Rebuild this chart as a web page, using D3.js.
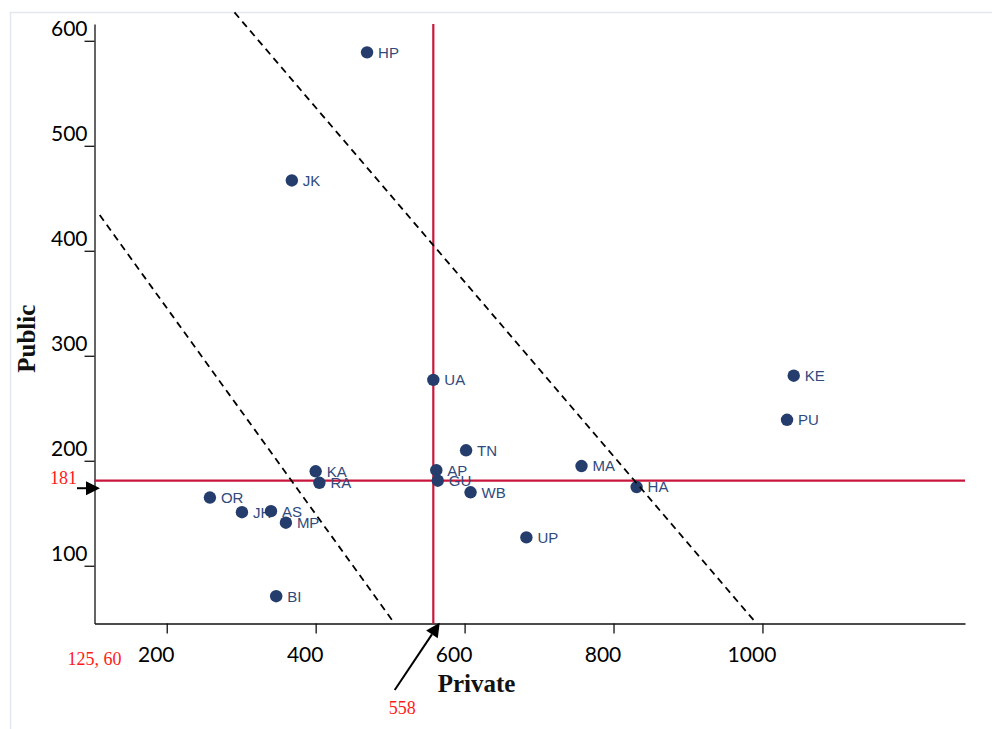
<!DOCTYPE html>
<html>
<head>
<meta charset="utf-8">
<script src="https://cdn.jsdelivr.net/npm/d3@7"></script>
<style>
  html, body { margin: 0; padding: 0; background: #fff; }
  svg { display: block; }
  .tick text { font-family: Lato, "Open Sans", sans-serif; font-size: 21px; fill: #000; }
  .pt-label { font-family: "Liberation Sans", Arial, sans-serif; font-size: 15px; fill: #2f4a7c; }
  .ann { font-family: "Liberation Serif", "Times New Roman", serif; font-size: 18px; fill: #ff1a1a; }
  .axis-title { font-family: "Liberation Serif", "Times New Roman", serif; font-size: 25px; font-weight: bold; fill: #111; }
</style>
</head>
<body>
<svg id="chart"></svg>
<script>
// data begin ----------------------------------
const states = ['HP', 'JK', 'UA', 'KE', 'PU', 'TN', 'MA', 'HA', 'WB', 'KA', 'RA',
                'AP', 'GU', 'OR', 'JH', 'AS', 'MP', 'UP', 'BI'];
const privateSpend = [469, 368, 558, 1042, 1033, 602, 757, 831, 608, 400, 405,
                      562, 564, 258, 301, 340, 360, 683, 347];
const publicSpend = [589, 467, 277, 281, 239, 210, 195, 175, 170, 190, 179,
                     191, 181, 165, 151, 152, 141, 127, 71];
const xTicks = [200, 400, 600, 800, 1000];
const yTicks = [100, 200, 300, 400, 500, 600];
const meanPrivate = 558;
const meanPublic = 181;
const originLabel = '125, 60';
// dashed reference lines: start and end points (private, public)
const dashStart = [[110, 434], [291, 627]];
const dashEnd = [[506, 45], [992, 45]];
// data end ----------------------------------

const W = 992, H = 729;
const margin = { top: 24, right: 27, bottom: 105.5, left: 94.5 };
const width = W - margin.left - margin.right;
const height = H - margin.top - margin.bottom;

const root = d3.select('#chart').attr('width', W).attr('height', H);
root.append('rect').attr('x', 10.5).attr('y', 12.5).attr('width', 1000).attr('height', 800)
    .attr('fill', 'none').attr('stroke', '#e3e7ef').attr('stroke-width', 1.5);

const svg = root.append('g').attr('transform', 'translate(' + margin.left + ',' + margin.top + ')');

const x = d3.scaleLinear().domain([103, 1272]).range([0, width]);
const y = d3.scaleLinear().domain([45, 616]).range([height, 0]);

// axes
const xAxis = d3.axisBottom(x).tickValues(xTicks).tickSize(10).tickSizeOuter(0).tickFormat(d3.format('d'));
const yAxis = d3.axisLeft(y).tickValues(yTicks).tickSize(10).tickSizeOuter(0).tickFormat(d3.format('d'));

const gx = svg.append('g').attr('class', 'x axis').attr('transform', 'translate(0,' + height + ')').call(xAxis);
gx.selectAll('.tick text').attr('x', -11).attr('y', 38.4).attr('dy', null);
const gy = svg.append('g').attr('class', 'y axis').call(yAxis);
gy.selectAll('.tick text').attr('x', -7).attr('y', -5.5).attr('dy', null);
svg.selectAll('.axis path, .axis line').attr('stroke', '#111').attr('stroke-width', 1.3);

// mean lines
svg.append('line').attr('x1', x(meanPrivate)).attr('x2', x(meanPrivate))
    .attr('y1', 0).attr('y2', height)
    .attr('stroke', '#c9163d').attr('stroke-width', 2.2);
svg.append('line').attr('x1', 0).attr('x2', width)
    .attr('y1', y(meanPublic)).attr('y2', y(meanPublic))
    .attr('stroke', '#c9163d').attr('stroke-width', 2.2);

// points
const pts = states.map((s, i) => ({ s: s, px: privateSpend[i], pu: publicSpend[i] }));
const g = svg.selectAll('g.pt').data(pts).join('g').attr('class', 'pt')
    .attr('transform', d => 'translate(' + x(d.px) + ',' + y(d.pu) + ')');
g.append('circle').attr('r', 6.2).attr('fill', '#243d6c');
g.append('text').attr('class', 'pt-label').attr('x', 11).attr('dy', '0.36em').text(d => d.s);

// dashed lines
svg.selectAll('line.dash').data(dashStart).join('line').attr('class', 'dash')
    .attr('x1', d => x(d[0])).attr('y1', d => y(d[1]))
    .attr('x2', (d, i) => x(dashEnd[i][0])).attr('y2', (d, i) => y(dashEnd[i][1]))
    .attr('stroke', '#000').attr('stroke-width', 1.8).attr('stroke-dasharray', '7,5');

// axis titles
svg.append('text').attr('class', 'axis-title').attr('text-anchor', 'middle')
    .attr('x', 382).attr('y', height + 68).text('Private');
svg.append('text').attr('class', 'axis-title').attr('text-anchor', 'middle')
    .attr('transform', 'translate(-59.5,' + (height / 2 + 15) + ') rotate(-90)').text('Public');

// annotations
function arrow(x1, y1, x2, y2) {
    const dx = x2 - x1, dy = y2 - y1, len = Math.sqrt(dx * dx + dy * dy);
    const ux = dx / len, uy = dy / len, hl = 14, hw = 7;
    const bx = x2 - ux * hl, by = y2 - uy * hl;
    svg.append('line').attr('x1', x1).attr('y1', y1).attr('x2', bx).attr('y2', by)
        .attr('stroke', '#000').attr('stroke-width', 2);
    svg.append('path')
        .attr('d', 'M' + x2 + ',' + y2 + 'L' + (bx - uy * hw) + ',' + (by + ux * hw) +
              'L' + (bx + uy * hw) + ',' + (by - ux * hw) + 'Z')
        .attr('fill', '#000');
}

svg.append('text').attr('class', 'ann').attr('text-anchor', 'end')
    .attr('x', -17.5).attr('y', y(meanPublic) + 3.5).text(meanPublic);
arrow(-17.5, y(meanPublic) + 7.5, 5.5, y(meanPublic) + 7.5);

svg.append('text').attr('class', 'ann').attr('text-anchor', 'middle')
    .attr('x', x(meanPrivate) - 31).attr('y', height + 90).text(meanPrivate);
arrow(x(meanPrivate) - 38.6, height + 66.5, x(meanPrivate) + 6.4, height - 0.8);

svg.append('text').attr('class', 'ann').attr('text-anchor', 'middle')
    .attr('x', 0).attr('y', height + 41.5).text(originLabel);
</script>
</body>
</html>
